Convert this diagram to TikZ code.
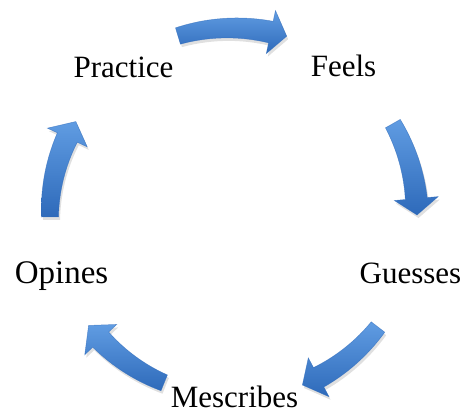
\documentclass[tikz,border=0pt]{standalone}
\usepackage{fontspec}
\setmainfont{Liberation Serif}
\begin{document}
\definecolor{cycblue}{RGB}{60,128,210}
\definecolor{cyclight}{RGB}{96,156,226}
\definecolor{cycdark}{RGB}{46,106,186}
\tikzset{
  label/.style={anchor=base, inner sep=0pt, font=\fontsize{31}{37}\selectfont},
  arrowshadow/.style={fill=black, opacity=0.12},
  arrowface/.style={top color=cyclight, middle color=cycblue, bottom color=cycdark},
  arrowedge/.style={draw=cycdark, line width=0.5pt, opacity=0.6},
  % curved block arrow around the hub: tail angle / head-base angle / tip angle / radius
  pics/cyc/.style n args={4}{code={
    \def\cycpath{plot[domain=#1:#2, samples=40] (\x:{#4+8.5+2.5*(\x-(#1))/((#2)-(#1))})
      -- (#2:{#4+22}) -- (#3:#4) -- (#2:{#4-22})
      -- plot[domain=#2:#1, samples=40] (\x:{#4-8.5-2.5*(\x-(#1))/((#2)-(#1))}) -- cycle}
    \fill[arrowshadow, shift={(1.5,-3)}] \cycpath;
    \shade[arrowface] \cycpath;
    \path[arrowedge] \cycpath;
  }}
}
\begin{tikzpicture}[x=1pt, y=1pt]
  \useasboundingbox (0,0) rectangle (462,-413);
  \coordinate (hub) at (232,-215);

  \node[label] (practice)  at (123.5,-77) {Practice};
  \node[label] (feels)     at (343.5,-76) {Feels};
  \node[label] (guesses)   at (410.5,-283) {Guesses};
  \node[label] (mescribes) at (234.5,-407) {Mescribes};
  \node[label, font=\fontsize{33}{39}\selectfont] (opines) at (61.5,-283) {Opines};

  \pic at (hub) {cyc={106.8}{78}{73}{187}};
  \pic at (hub) {cyc={29.6}{5.1}{0}{185}};
  \pic at (hub) {cyc={-37.5}{-61.9}{-67.5}{184}};
  \pic at (hub) {cyc={-112}{-136.5}{-142.4}{181}};
  \pic at (hub) {cyc={180.6}{154.8}{149.1}{182}};
\end{tikzpicture}
\end{document}
